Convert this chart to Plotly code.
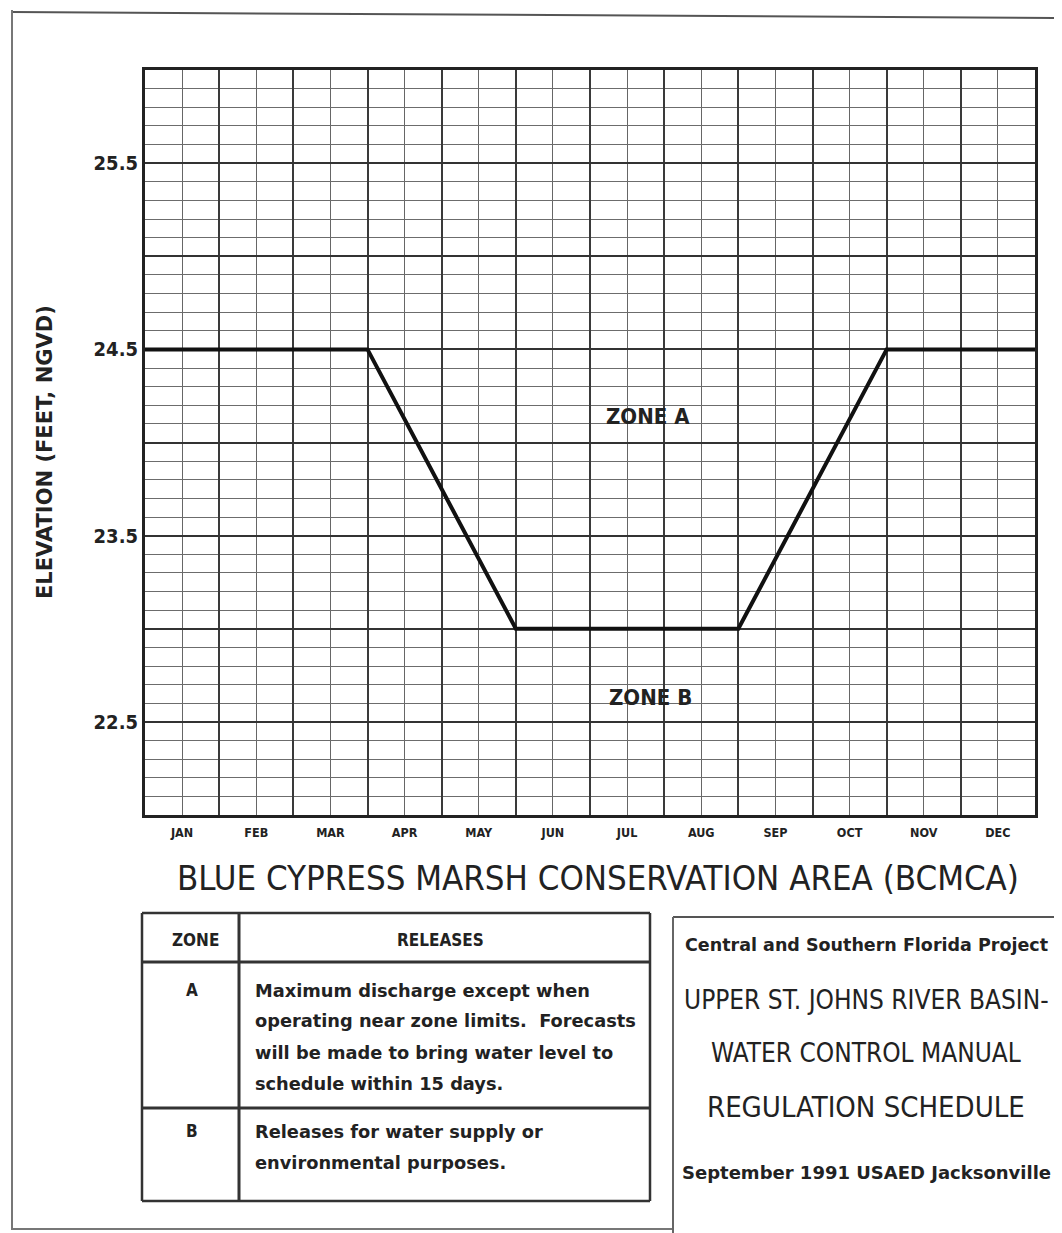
import plotly.graph_objects as go

# regulation schedule (month position, elevation in ft NGVD)
months = ["JAN", "FEB", "MAR", "APR", "MAY", "JUN", "JUL", "AUG", "SEP", "OCT", "NOV", "DEC"]
schedule_month = [0, 3, 5, 8, 10, 12]
schedule_elev = [24.5, 24.5, 23.0, 23.0, 24.5, 24.5]
y_labels = [22.5, 23.5, 24.5, 25.5]

zones = ["A", "B"]
releases = [
    ["Maximum discharge except when",
     "operating near zone limits.  Forecasts",
     "will be made to bring water level to",
     "schedule within 15 days."],
    ["Releases for water supply or",
     "environmental purposes."],
]
title_block = [
    "Central and Southern Florida Project",
    "UPPER ST. JOHNS RIVER BASIN-",
    "WATER CONTROL MANUAL",
    "REGULATION SCHEDULE",
    "September 1991 USAED Jacksonville",
]

W, H = 1062, 1233
OFF = 8  # page body margin
L, R, T, B = 145, 1035, 70, 815
COND = "DejaVu Sans Condensed, Liberation Sans Narrow, Liberation Sans, sans-serif"
BOLD = "DejaVu Sans, sans-serif"
INK = "#222"


def px(x):
    return (x - L) / (R - L)


def py(y):
    return (B - y) / (B - T)


fig = go.Figure()
fig.add_trace(go.Scatter(
    x=schedule_month, y=schedule_elev, mode="lines",
    line=dict(color="#111", width=4), showlegend=False, hoverinfo="skip",
))

ytick = [22 + 0.5 * i for i in range(9)]
ytext = [f"{v:.1f}" if v in y_labels else "" for v in ytick]

fig.update_layout(
    width=W, height=H,
    margin=dict(l=L - OFF, r=W - (R - OFF), t=T - OFF, b=H - (B - OFF)),
    paper_bgcolor="white", plot_bgcolor="white",
    xaxis=dict(
        range=[0, 12], tick0=0, dtick=1, showticklabels=False,
        showgrid=True, gridcolor="#3a3a3a", gridwidth=2,
        minor=dict(dtick=0.5, tick0=0, showgrid=True, gridcolor="#666", gridwidth=1),
        showline=True, linecolor=INK, linewidth=3, mirror=True,
        zeroline=False,
    ),
    xaxis2=dict(
        overlaying="x", anchor="y", side="bottom", range=[0, 12],
        tickmode="array", tickvals=[i + 0.5 for i in range(12)], ticktext=months,
        tickfont=dict(family=COND, size=12.5, color=INK, weight="bold"),
        showgrid=False, showline=False, zeroline=False, ticks="", ticklabelstandoff=8,
    ),
    yaxis=dict(
        range=[22, 26], tickmode="array", tickvals=ytick, ticktext=ytext,
        tickfont=dict(family=COND, size=20, color=INK, weight="bold"),
        showgrid=True, gridcolor="#333", gridwidth=2,
        minor=dict(dtick=0.1, tick0=22, showgrid=True, gridcolor="#6c6c6c", gridwidth=1),
        showline=True, linecolor=INK, linewidth=3, mirror=True,
        zeroline=False, ticks="", ticklabelstandoff=0,
    ),
)
# invisible trace so the month label axis is drawn
fig.add_trace(go.Scatter(x=[0], y=[22], xaxis="x2", mode="markers",
                         marker=dict(opacity=0), showlegend=False, hoverinfo="skip"))

ann = []
ann.append(dict(x=px(45), y=py(452), text="ELEVATION (FEET, NGVD)", textangle=-90,
                font=dict(family=BOLD, size=21, color=INK, weight="bold")))
ann.append(dict(x=px(648), y=py(417), text="ZONE A",
                font=dict(family=COND, size=22, color=INK, weight="bold")))
ann.append(dict(x=px(650), y=py(697), text="ZONE B",
                font=dict(family=COND, size=22, color=INK, weight="bold")))
ann.append(dict(x=px(598), y=py(878), text="BLUE CYPRESS MARSH CONSERVATION AREA (BCMCA)",
                font=dict(family=COND, size=34.5, color=INK)))

# zone / releases table
ann.append(dict(x=px(195), y=py(940), text="ZONE",
                font=dict(family=COND, size=17, color=INK, weight="bold")))
ann.append(dict(x=px(440), y=py(940), text="RELEASES",
                font=dict(family=COND, size=17, color=INK, weight="bold")))
for zone, lines, top in zip(zones, releases, [990, 1131]):
    ann.append(dict(x=px(192), y=py(top), text=zone,
                    font=dict(family=COND, size=17, color=INK, weight="bold")))
    for i, txt in enumerate(lines):
        ann.append(dict(x=px(253), y=py(top + 31 * i), text=txt, xanchor="left",
                        font=dict(family=BOLD, size=17.8, color=INK, weight="bold")))

# title block
tb_y = [945, 1000, 1053, 1107, 1172]
tb_font = [
    dict(family=BOLD, size=17.5, color=INK, weight="bold"),
    dict(family=COND, size=26, color=INK),
    dict(family=COND, size=26, color=INK),
    dict(family=COND, size=29, color=INK),
    dict(family=BOLD, size=18, color=INK, weight="bold"),
]
for txt, yy, f in zip(title_block, tb_y, tb_font):
    ann.append(dict(x=px(866), y=py(yy), text=txt, font=f))

for a in ann:
    a.update(xref="paper", yref="paper", showarrow=False)
    a.setdefault("xanchor", "center")
    a.setdefault("yanchor", "middle")
fig.update_layout(annotations=ann)

shapes = []


def line(x0, y0, x1, y1, w=2, c="#333"):
    shapes.append(dict(type="line", xref="paper", yref="paper",
                       x0=px(x0), y0=py(y0), x1=px(x1), y1=py(y1),
                       line=dict(color=c, width=w)))


# page border
line(12, 12, 1062, 18, 2, "#555")
line(12, 10, 12, 1230, 2, "#777")
line(12, 1229, 673, 1229, 2, "#777")
# releases table
line(142, 913, 650, 913, 2.5)
line(142, 1201, 650, 1201, 2.5)
line(142, 913, 142, 1201, 2.5)
line(650, 913, 650, 1201, 2.5)
line(239, 913, 239, 1201, 3)
line(142, 962, 650, 962, 3)
line(142, 1108, 650, 1108, 3)
# title block box
line(673, 917, 1062, 917, 2, "#555")
line(673, 917, 673, 1233, 2, "#666")
fig.update_layout(shapes=shapes)

fig.write_html("out.html")
